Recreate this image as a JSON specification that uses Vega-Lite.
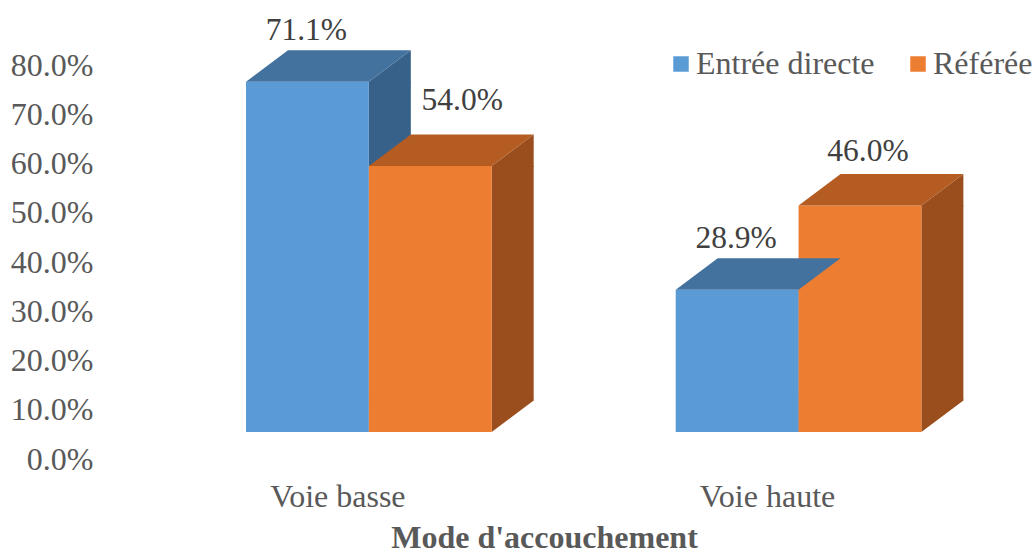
{
  "$schema": "https://vega.github.io/schema/vega-lite/v6.json",
  "autosize": {"type": "none"},
  "width": 934,
  "height": 394,
  "padding": {"left": 100, "top": 65, "right": 0, "bottom": 96},
  "background": "white",
  "config": {"view": {"stroke": null}, "font": "Liberation Serif"},
  "data": {
    "values": [
      {"mode": "Voie basse", "groupe": "Entrée directe", "pct": 0.711},
      {"mode": "Voie basse", "groupe": "Référée", "pct": 0.540},
      {"mode": "Voie haute", "groupe": "Entrée directe", "pct": 0.289},
      {"mode": "Voie haute", "groupe": "Référée", "pct": 0.460}
    ]
  },
  "encoding": {
    "x": {
      "field": "mode", "type": "nominal", "sort": ["Voie basse", "Voie haute"],
      "scale": {"type": "band", "domain": ["Voie basse", "Voie haute"], "paddingInner": 0.4282, "paddingOuter": 0.3009, "align": 0.5646},
      "axis": {
        "title": "Mode d'accouchement", "domain": false, "ticks": false, "labelAngle": 0,
        "labelFont": "Liberation Serif", "labelFontSize": 32, "labelColor": "#595959",
        "labelOffset": -31, "labelPadding": 22,
        "titleFont": "Liberation Serif", "titleFontSize": 32, "titleFontWeight": "bold", "titleColor": "#595959",
        "titleX": 444, "titleY": 88, "titleBaseline": "alphabetic", "titleAlign": "center", "titleAnchor": null
      }
    },
    "xOffset": {
      "field": "groupe", "type": "nominal",
      "scale": {"type": "band", "domain": ["Entrée directe", "Référée"], "paddingInner": 0, "paddingOuter": 0}
    }
  },
  "layer": [
    {
      "mark": {"type": "rule", "opacity": 0},
      "encoding": {
        "y": {
          "field": "pct", "type": "quantitative",
          "scale": {"domain": [0, 0.8], "nice": false, "zero": false},
          "axis": {
            "title": null, "format": ".1%", "values": [0, 0.1, 0.2, 0.3, 0.4, 0.5, 0.6, 0.7, 0.8],
            "domain": false, "ticks": false, "grid": false,
            "labelFont": "Liberation Serif", "labelFontSize": 32, "labelColor": "#595959", "labelPadding": 7
          }
        }
      }
    },
    {
      "mark": {"type": "bar", "width": 42, "y2Offset": -31.5},
      "encoding": {
        "xOffset": {
          "field": "groupe", "type": "nominal",
          "scale": {"type": "band", "domain": ["Entrée directe", "Référée"], "range": [82.4, 328.1], "paddingInner": 0, "paddingOuter": 0}
        },
        "y": {"field": "pct", "type": "quantitative", "scale": {"domain": [-0.0548, 0.7452], "nice": false, "zero": false}, "axis": null},
        "y2": {"datum": 0},
        "color": {"field": "groupe", "type": "nominal", "scale": {"domain": ["Entrée directe", "Référée"], "range": ["#376189", "#9a4e1d"]}, "legend": null}
      }
    },
    {
      "mark": {"type": "point", "filled": true, "opacity": 1, "size": 4, "strokeWidth": 0, "shape": "M61.4,1L61.4,0L103.4,-31.5L103.4,1Z"},
      "encoding": {
        "y": {"field": "pct", "type": "quantitative", "scale": {"domain": [-0.0548, 0.7452], "nice": false, "zero": false}, "axis": null},
        "color": {"field": "groupe", "type": "nominal", "scale": {"domain": ["Entrée directe", "Référée"], "range": ["#376189", "#9a4e1d"]}, "legend": null}
      }
    },
    {
      "mark": {"type": "point", "filled": true, "opacity": 1, "size": 4, "strokeWidth": 0, "shape": "M61.4,-32.5L103.4,-32.5L103.4,-31.5L61.4,0Z"},
      "encoding": {
        "y": {"datum": 0, "type": "quantitative", "scale": {"domain": [-0.0548, 0.7452], "nice": false, "zero": false}, "axis": null},
        "color": {"field": "groupe", "type": "nominal", "scale": {"domain": ["Entrée directe", "Référée"], "range": ["#376189", "#9a4e1d"]}, "legend": null}
      }
    },
    {
      "mark": {"type": "bar"},
      "encoding": {
        "y": {"field": "pct", "type": "quantitative", "scale": {"domain": [-0.0548, 0.7452], "nice": false, "zero": false}, "axis": null},
        "y2": {"datum": 0},
        "color": {
          "field": "groupe", "type": "nominal",
          "scale": {"domain": ["Entrée directe", "Référée"], "range": ["#5b9bd5", "#ed7d31"]},
          "legend": {
            "title": null, "orient": "none", "legendX": 565, "legendY": -17, "direction": "horizontal",
            "symbolType": "square", "symbolSize": 240, "symbolStrokeWidth": 0, "labelOffset": -1, "columnPadding": 27,
            "labelFont": "Liberation Serif", "labelFontSize": 32, "labelColor": "#595959", "padding": 0, "labelLimit": 400
          }
        }
      }
    },
    {
      "mark": {"type": "point", "filled": true, "opacity": 1, "size": 4, "strokeWidth": 0, "shape": "M-61.4,0L61.4,0L103.4,-31.5L-19.4,-31.5Z"},
      "encoding": {
        "y": {"field": "pct", "type": "quantitative", "scale": {"domain": [-0.0548, 0.7452], "nice": false, "zero": false}, "axis": null},
        "color": {"field": "groupe", "type": "nominal", "scale": {"domain": ["Entrée directe", "Référée"], "range": ["#43729f", "#b45c22"]}, "legend": null}
      }
    },
    {
      "transform": [{"filter": "datum.groupe === 'Entrée directe'"}],
      "mark": {"type": "text", "font": "Liberation Serif", "fontSize": 31.5, "color": "#404040", "baseline": "alphabetic", "dx": -1, "dy": -42},
      "encoding": {
        "y": {"field": "pct", "type": "quantitative", "scale": {"domain": [-0.0548, 0.7452], "nice": false, "zero": false}, "axis": null},
        "text": {"field": "pct", "type": "quantitative", "format": ".1%"}
      }
    },
    {
      "transform": [{"filter": "datum.groupe === 'Référée' && datum.mode === 'Voie basse'"}],
      "mark": {"type": "text", "font": "Liberation Serif", "fontSize": 31.5, "color": "#404040", "baseline": "alphabetic", "dx": 32, "dy": -56},
      "encoding": {
        "y": {"field": "pct", "type": "quantitative", "scale": {"domain": [-0.0548, 0.7452], "nice": false, "zero": false}, "axis": null},
        "text": {"field": "pct", "type": "quantitative", "format": ".1%"}
      }
    },
    {
      "transform": [{"filter": "datum.groupe === 'Référée' && datum.mode === 'Voie haute'"}],
      "mark": {"type": "text", "font": "Liberation Serif", "fontSize": 31.5, "color": "#404040", "baseline": "alphabetic", "dx": 8, "dy": -44},
      "encoding": {
        "y": {"field": "pct", "type": "quantitative", "scale": {"domain": [-0.0548, 0.7452], "nice": false, "zero": false}, "axis": null},
        "text": {"field": "pct", "type": "quantitative", "format": ".1%"}
      }
    }
  ],
  "resolve": {"scale": {"y": "independent", "color": "independent", "xOffset": "independent"}}
}
